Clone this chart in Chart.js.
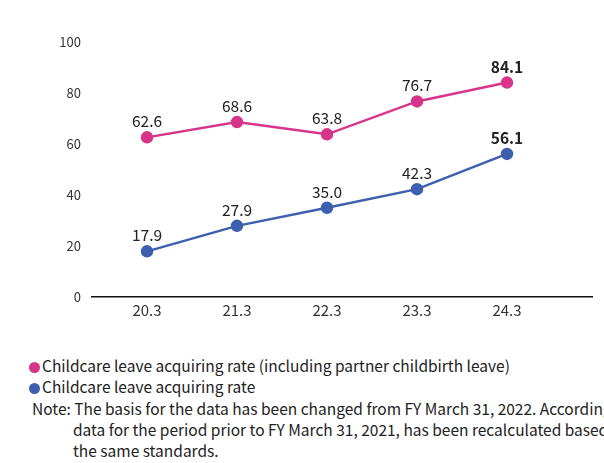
<!DOCTYPE html>
<html>
<head>
<meta charset="utf-8">
<script src="https://cdn.jsdelivr.net/npm/chart.js@4.4.0/dist/chart.umd.min.js"></script>
<style>
  body { margin: 0; background: #fff; width: 604px; height: 463px; overflow: hidden; position: relative;
         font-family: "Noto Sans CJK JP", "Noto Sans", sans-serif; color: #222; }
  #wrap { position: absolute; left: 0; top: 0; width: 604px; height: 340px; }
  .notes { position: absolute; left: 0; top: 355px; width: 604px; font-size: 15.5px; line-height: 21.3px;
           white-space: nowrap; overflow: hidden; }
  .row { padding-left: 29px; }
  .dot { display: inline-block; width: 11px; height: 11px; border-radius: 50%; margin-right: 2px; vertical-align: -1px; }
  .note { padding-left: 32px; }
  .indent { padding-left: 73px; }
</style>
</head>
<body>
<div id="wrap"><canvas id="myChart"></canvas></div>
<div class="notes">
  <div class="row"><span class="dot" style="background:#d6358a"></span>Childcare leave acquiring rate (including partner childbirth leave)</div>
  <div class="row"><span class="dot" style="background:#3d5fae"></span>Childcare leave acquiring rate</div>
  <div class="note">Note: The basis for the data has been changed from FY March 31, 2022. Accordingly, the</div>
  <div class="indent">data for the period prior to FY March 31, 2021, has been recalculated based on</div>
  <div class="indent">the same standards.</div>
</div>
<script>
// fiscal years on the x axis
var years = ['20.3', '21.3', '22.3', '23.3', '24.3'];
// with partner childbirth leave
var ratePartner = [62.6, 68.6, 63.8, 76.7, 84.1];
// childcare leave only
var rateChildcare = [17.9, 27.9, 35.0, 42.3, 56.1];
var yTicks = [0, 20, 40, 60, 80, 100];

var fontFam = '"Noto Sans CJK JP", "Noto Sans", sans-serif';

function toPoints(arr) {
    return arr.map(function (v, i) { return {x: i, y: v}; });
}

// value labels above each point, last one in bold
var valueLabels = {
    id: 'valueLabels',
    afterDatasetsDraw: function (chart) {
        var ctx = chart.ctx;
        ctx.save();
        ctx.fillStyle = '#222';
        ctx.textAlign = 'center';
        ctx.textBaseline = 'alphabetic';
        chart.data.datasets.forEach(function (ds, di) {
            chart.getDatasetMeta(di).data.forEach(function (pt, i) {
                var last = i === ds.data.length - 1;
                ctx.font = (last ? 'bold ' : '') + '15.5px ' + fontFam;
                ctx.fillText(ds.data[i].y.toFixed(1), pt.x, pt.y - 10);
            });
        });
        ctx.restore();
    }
};

var ctx = document.getElementById('myChart').getContext('2d');
var myChart = new Chart(ctx, {
    type: 'line',
    data: {
        datasets: [{
            label: 'Childcare leave acquiring rate (including partner childbirth leave)',
            data: toPoints(ratePartner),
            borderColor: '#d6358a',
            backgroundColor: '#d6358a',
            borderWidth: 2.5,
            pointRadius: 5,
            pointHoverRadius: 5
        }, {
            label: 'Childcare leave acquiring rate',
            data: toPoints(rateChildcare),
            borderColor: '#3d5fae',
            backgroundColor: '#3d5fae',
            borderWidth: 2.5,
            pointRadius: 5,
            pointHoverRadius: 5
        }]
    },
    options: {
        responsive: true,
        maintainAspectRatio: false,
        animation: false,
        layout: { padding: { top: 42, right: 12, bottom: 3, left: 0 } },
        plugins: { legend: { display: false }, tooltip: { enabled: false } },
        scales: {
            x: {
                type: 'linear',
                min: -55 / 90,
                max: 4 + 85 / 90,
                grid: { display: false, drawTicks: false },
                border: { display: true, color: '#111', width: 1.5 },
                afterBuildTicks: function (scale) {
                    scale.ticks = years.map(function (y, i) { return {value: i}; });
                },
                afterFit: function (scale) { scale.height = 40; },
                ticks: {
                    padding: 4,
                    color: '#333',
                    font: { size: 15, family: fontFam },
                    callback: function (v) { return years[v]; }
                }
            },
            y: {
                min: 0,
                max: 100,
                grid: { display: false, drawTicks: false },
                border: { display: false },
                afterBuildTicks: function (scale) {
                    scale.ticks = yTicks.map(function (t) { return {value: t}; });
                },
                afterFit: function (scale) { scale.width = 92; },
                ticks: {
                    padding: 11,
                    color: '#333',
                    font: { size: 13, family: fontFam }
                }
            }
        }
    },
    plugins: [valueLabels]
});
</script>
</body>
</html>
